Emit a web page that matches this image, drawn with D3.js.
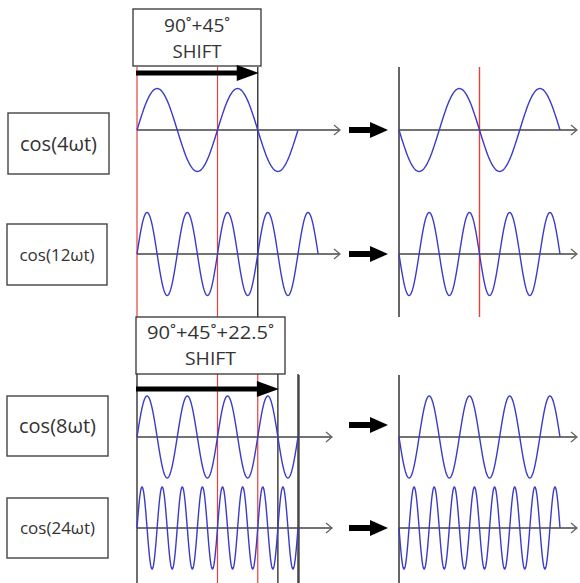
<!DOCTYPE html>
<html><head><meta charset="utf-8">
<script src="https://cdn.jsdelivr.net/npm/d3@7"></script>
<style>html,body{margin:0;padding:0;background:#fff;}svg{display:block;}</style>
</head><body>
<script>
// ---- data ----
const labels = ["cos(4ωt)", "cos(12ωt)", "cos(8ωt)", "cos(24ωt)"];
const labelSizes = [20, 17, 20, 17];
// wave period in units of the cos(4ωt) drawn period
const periods = [1, 0.5, 0.5, 0.25];
// number of cycles drawn before (left) and after (right) the shift
const cyclesLeft = [2, 4.5, 4, 8];
const cyclesRight = [2, 4, 4, 8];
// sign of the initial slope: +1 before the shift, -1 after
const signLeft = [1, 1, 1, 1];
const signRight = [-1, -1, -1, -1];
const rowCenter = [130, 254, 437, 528];
const shiftTitles = [["90˚+45˚", "SHIFT"], ["90˚+45˚+22.5˚", "SHIFT"]];
const shiftTitleWidths = [[66, 49], [127, 51]];
// shift arrow lengths (units)
const shiftAmounts = [1.5, 1.75];
// vertical guide lines (units) per section: [pos, colour]
const guidesLeft = [
  [[0, "red"], [1, "red"], [1.5, "black"]],
  [[0, "black"], [1, "red"], [1.5, "red"], [1.75, "black"], [2, "black"]]
];
const guidesRight = [
  [[0, "black"], [1, "red"]],
  [[0, "black"]]
];

// ---- layout ----
const W = 580, H = 583;
const svg = d3.select("body").append("svg").attr("width", W).attr("height", H);
const xL = d3.scaleLinear().domain([0, 2]).range([137, 298]);
const xR = d3.scaleLinear().domain([0, 2]).range([399, 560]);
const amp = [41.5, 41.5, 41, 41];
const yS = rowCenter.map((c, i) => d3.scaleLinear().domain([-1, 1]).range([c + amp[i], c - amp[i]]));

const BLUE = "#3b3bc9", RED = "#e8403a", DARK = "#333";
const font = "'Open Sans', 'Noto Sans', sans-serif";

// section extents
const sections = [
  {boxX: [133, 261], boxY: [9, 66], arrowY: 73, lineY: [67, 317], rlineY: [67, 317], base: [32, 58]},
  {boxX: [136, 285], boxY: [317, 374], arrowY: 389, lineY: [374, 583], rlineY: [375, 583], base: [339, 365]}
];

// vertical guide lines
sections.forEach((s, si) => {
  guidesLeft[si].forEach(([u, c]) => {
    svg.append("line").attr("x1", xL(u)).attr("x2", xL(u))
      .attr("y1", s.lineY[0]).attr("y2", s.lineY[1])
      .attr("stroke", c === "red" ? RED : DARK).attr("stroke-width", c === "red" ? 1.2 : 1.4);
  });
  guidesRight[si].forEach(([u, c]) => {
    svg.append("line").attr("x1", xR(u)).attr("x2", xR(u))
      .attr("y1", s.rlineY[0]).attr("y2", s.rlineY[1])
      .attr("stroke", c === "red" ? RED : DARK).attr("stroke-width", c === "red" ? 1.4 : 1.5);
  });
});
// extra line at right edge of bottom-left panel
svg.append("line").attr("x1", xL(2) + 1).attr("x2", xL(2) + 1).attr("y1", 375).attr("y2", 583)
  .attr("stroke", DARK).attr("stroke-width", 1.3);

// axes with open chevrons
function axis(x1, x2, y) {
  svg.append("line").attr("x1", x1).attr("x2", x2).attr("y1", y).attr("y2", y)
    .attr("stroke", "#444").attr("stroke-width", 1.4);
  svg.append("path").attr("d", `M${x2 - 6},${y - 5}L${x2},${y}L${x2 - 6},${y + 5}`)
    .attr("fill", "none").attr("stroke", "#666").attr("stroke-width", 1.3);
}
const axisEndLeft = [340, 340, 332, 332];
rowCenter.forEach((c, i) => {
  axis(xL(0), axisEndLeft[i], c);
  axis(xR(0), 577, c);
});

// waves
function wave(xs, ys, period, cycles, sign) {
  const n = Math.round(cycles * 80);
  const pts = d3.range(n + 1).map(k => {
    const u = (k / n) * cycles * period;
    return [xs(u), ys(sign * Math.sin(2 * Math.PI * u / period))];
  });
  svg.append("path").attr("d", d3.line()(pts)).attr("fill", "none")
    .attr("stroke", BLUE).attr("stroke-width", 1.4);
}
rowCenter.forEach((c, i) => {
  wave(xL, yS[i], periods[i], cyclesLeft[i], signLeft[i]);
  wave(xR, yS[i], periods[i], cyclesRight[i], signRight[i]);
});

// label boxes
const labelBoxes = [[8, 113, 101, 61], [7, 224, 100, 61], [7, 396, 101, 60], [7, 498, 101, 60]];
labels.forEach((t, i) => {
  const [bx, by, bw, bh] = labelBoxes[i];
  svg.append("rect").attr("x", bx).attr("y", by).attr("width", bw).attr("height", bh)
    .attr("fill", "#fff").attr("stroke", "#444").attr("stroke-width", 1.4);
  svg.append("text").attr("x", bx + bw / 2).attr("y", by + bh / 2 + labelSizes[i] * 0.36)
    .attr("text-anchor", "middle").attr("font-family", font).attr("font-size", labelSizes[i])
    .attr("fill", "#333").text(t);
});

// shift boxes and arrows
function bigArrow(x1, x2, y, shaft, headLen, headHalf) {
  svg.append("path").attr("d",
    `M${x1},${y - shaft / 2}L${x2 - headLen},${y - shaft / 2}L${x2 - headLen},${y - headHalf}` +
    `L${x2},${y}L${x2 - headLen},${y + headHalf}L${x2 - headLen},${y + shaft / 2}L${x1},${y + shaft / 2}Z`)
    .attr("fill", "#000");
}
sections.forEach((s, si) => {
  svg.append("rect").attr("x", s.boxX[0]).attr("y", s.boxY[0])
    .attr("width", s.boxX[1] - s.boxX[0]).attr("height", s.boxY[1] - s.boxY[0])
    .attr("fill", "#fff").attr("stroke", "#333").attr("stroke-width", 1.3);
  const cx = (s.boxX[0] + s.boxX[1]) / 2;
  shiftTitles[si].forEach((t, li) => {
    svg.append("text").attr("x", cx).attr("y", s.base[li])
      .attr("text-anchor", "middle").attr("font-family", font).attr("font-size", 19)
      .attr("textLength", shiftTitleWidths[si][li]).attr("lengthAdjust", "spacingAndGlyphs")
      .attr("fill", "#333").text(t);
  });
  bigArrow(xL(0) - 1, xL(shiftAmounts[si]) + 1, s.arrowY, 5, 22, 8);
});

// transition arrows
const transArrowY = [130, 254, 425, 528];
transArrowY.forEach(y => bigArrow(349, 388, y, 6, 18, 8));
</script>
</body></html>
